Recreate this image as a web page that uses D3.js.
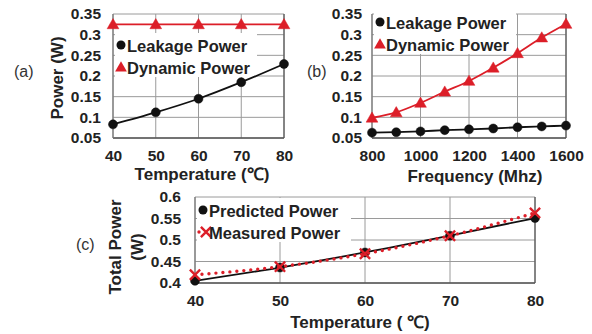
<!DOCTYPE html>
<html>
<head>
<meta charset="utf-8">
<script src="https://cdn.jsdelivr.net/npm/d3@7"></script>
<style>
  body { margin: 0; background: #fff; }
  svg { font-family: "Liberation Sans", Arial, sans-serif; }
</style>
</head>
<body>
<div id="chart"></div>
<script>
// panel (a): power vs temperature
const tempsA = [40, 50, 60, 70, 80];
const leakageA = [0.083, 0.112, 0.145, 0.185, 0.229];
const dynamicA = [0.325, 0.325, 0.325, 0.325, 0.325];

// panel (b): power vs frequency
const freqsB = [800, 900, 1000, 1100, 1200, 1300, 1400, 1500, 1600];
const leakageB = [0.063, 0.064, 0.066, 0.069, 0.071, 0.073, 0.076, 0.078, 0.080];
const dynamicB = [0.099, 0.112, 0.135, 0.162, 0.188, 0.220, 0.255, 0.293, 0.326];

// panel (c): total power vs temperature
const tempsC = [40, 50, 60, 70, 80];
const predictedC = [0.405, 0.436, 0.471, 0.510, 0.551];
const measuredC = [0.419, 0.438, 0.468, 0.510, 0.563];

const powerTicks = [0.05, 0.1, 0.15, 0.2, 0.25, 0.3, 0.35];
const totalTicks = [0.4, 0.45, 0.5, 0.55, 0.6];
const freqTicks = [800, 1000, 1200, 1400, 1600];

const RED = '#dc1e28';
const BLACK = '#111';

const svg = d3.select('#chart').append('svg')
  .attr('width', 592)
  .attr('height', 334);

svg.append('rect').attr('width', 592).attr('height', 334).attr('fill', '#fff');

const triangle = d3.symbol().type(d3.symbolTriangle).size(60);
const cross = d3.symbol().type(d3.symbolX).size(70);

function drawPanel(p) {
  const x = d3.scaleLinear().domain(p.xDomain).range([p.left, p.right]);
  const y = d3.scaleLinear().domain(p.yDomain).range([p.bottom, p.top]);
  const g = svg.append('g');

  // gridlines
  g.selectAll('.gy').data(p.yTicks).enter().append('line')
    .attr('x1', p.left).attr('x2', p.right)
    .attr('y1', d => y(d)).attr('y2', d => y(d))
    .attr('stroke', '#9a9a9a').attr('stroke-width', 1);
  g.selectAll('.gx').data(p.xGrid).enter().append('line')
    .attr('x1', d => x(d)).attr('x2', d => x(d))
    .attr('y1', p.top).attr('y2', p.bottom)
    .attr('stroke', '#9a9a9a').attr('stroke-width', 1);
  // axis lines
  g.append('line').attr('x1', p.left).attr('x2', p.right)
    .attr('y1', p.bottom).attr('y2', p.bottom)
    .attr('stroke', '#555').attr('stroke-width', 1.5);
  g.append('line').attr('x1', p.left).attr('x2', p.left)
    .attr('y1', p.top).attr('y2', p.bottom)
    .attr('stroke', '#777').attr('stroke-width', 1.2);
  g.append('line').attr('x1', p.right).attr('x2', p.right)
    .attr('y1', p.top).attr('y2', p.bottom)
    .attr('stroke', '#555').attr('stroke-width', 1.2);

  // tick labels
  const yAxis = d3.axisLeft(y).tickValues(p.yTicks).tickSize(0).tickPadding(p.yPad)
    .tickFormat(d3.format('~g'));
  const ya = g.append('g').attr('transform', `translate(${p.left},0)`).call(yAxis);
  const xAxis = d3.axisBottom(x).tickValues(p.xTicks).tickSize(0).tickPadding(p.xPad)
    .tickFormat(d3.format('d'));
  const xa = g.append('g').attr('transform', `translate(0,${p.bottom})`).call(xAxis);
  [ya, xa].forEach(a => {
    a.select('.domain').remove();
    a.selectAll('text').attr('font-size', 15.5).attr('font-weight', 'bold')
      .attr('fill', '#222').attr('font-family', '"Liberation Sans", Arial, sans-serif');
  });

  // legend background
  g.append('rect')
    .attr('x', p.left + 2).attr('y', p.legendY - 13)
    .attr('width', p.legendW).attr('height', 44)
    .attr('fill', '#fff');

  // series
  p.series.forEach((s, si) => {
    const pts = p.xs.map((v, i) => [x(v), y(s.values[i])]);
    g.append('path')
      .attr('d', d3.line().curve(d3.curveMonotoneX)(pts))
      .attr('fill', 'none')
      .attr('stroke', s.color)
      .attr('stroke-width', s.dotted ? 3.4 : 1.8)
      .attr('stroke-linecap', 'round')
      .attr('stroke-dasharray', s.dotted ? '0 7' : null);
    g.selectAll(null).data(pts).enter().append(s.marker === 'circle' ? 'circle' : 'path')
      .each(function(d) {
        const el = d3.select(this);
        if (s.marker === 'circle') el.attr('cx', d[0]).attr('cy', d[1]).attr('r', 4.5);
        else el.attr('transform', `translate(${d[0]},${d[1] + (s.marker === 'triangle' ? 1 : 0)})`)
          .attr('d', s.marker === 'triangle' ? triangle() : cross());
      })
      .attr('fill', s.marker === 'cross' ? 'none' : s.color)
      .attr('stroke', s.color)
      .attr('stroke-width', s.marker === 'cross' ? 2.4 : 0.5);

    // legend entry
    const ly = p.legendY + si * 22;
    const mx = p.left + 8;
    if (s.marker === 'circle') {
      g.append('circle').attr('cx', mx).attr('cy', ly - 1).attr('r', 4.5).attr('fill', s.color);
    } else if (s.marker === 'triangle') {
      g.append('path').attr('transform', `translate(${mx},${ly})`).attr('d', triangle()).attr('fill', s.color);
    } else {
      g.append('circle').attr('cx', mx - 4).attr('cy', ly - 1).attr('r', 1.7).attr('fill', s.color);
      g.append('path').attr('transform', `translate(${mx + 3},${ly - 1})`).attr('d', cross())
        .attr('fill', 'none').attr('stroke', s.color).attr('stroke-width', 2.4);
    }
    g.append('text').attr('x', mx + 6).attr('y', ly + 5.5)
      .attr('font-size', 16.5).attr('font-weight', 'bold').attr('fill', '#222')
      .text(s.name);
  });

  // axis titles
  g.append('text').attr('x', p.xTitleX).attr('y', p.xTitleY)
    .attr('text-anchor', 'middle').attr('font-size', 17).attr('font-weight', 'bold')
    .attr('fill', '#222').text(p.xTitle);
  p.yTitle.forEach((t, i) => {
    g.append('text')
      .attr('transform', `translate(${p.yTitleX + i * 22},${p.yTitleY}) rotate(-90)`)
      .attr('text-anchor', 'middle').attr('font-size', 17).attr('font-weight', 'bold')
      .attr('fill', '#222').text(t);
  });
  g.append('text').attr('x', p.labelX).attr('y', p.labelY)
    .attr('font-size', 16).attr('fill', '#333').text(p.label);
}

drawPanel({
  left: 113, right: 284, top: 14, bottom: 138,
  xDomain: [40, 80], yDomain: [0.05, 0.35],
  xs: tempsA, xTicks: tempsA, xGrid: tempsA, yTicks: powerTicks,
  yPad: 12, xPad: 12,
  series: [
    { name: 'Leakage Power', values: leakageA, color: BLACK, marker: 'circle' },
    { name: 'Dynamic Power', values: dynamicA, color: RED, marker: 'triangle' }
  ],
  legendY: 46, legendW: 142,
  xTitle: 'Temperature (℃)', xTitleX: 202, xTitleY: 180,
  yTitle: ['Power (W)'], yTitleX: 63, yTitleY: 78,
  label: '(a)', labelX: 14, labelY: 77
});

drawPanel({
  left: 372, right: 566, top: 14, bottom: 138,
  xDomain: [800, 1600], yDomain: [0.05, 0.35],
  xs: freqsB, xTicks: freqTicks, xGrid: freqTicks, yTicks: powerTicks,
  yPad: 10, xPad: 12,
  series: [
    { name: 'Leakage Power', values: leakageB, color: BLACK, marker: 'circle' },
    { name: 'Dynamic Power', values: dynamicB, color: RED, marker: 'triangle' }
  ],
  legendY: 23, legendW: 142,
  xTitle: 'Frequency (Mhz)', xTitleX: 475, xTitleY: 182,
  yTitle: [], yTitleX: 0, yTitleY: 0,
  label: '(b)', labelX: 307, labelY: 77
});

drawPanel({
  left: 195, right: 535, top: 197, bottom: 283,
  xDomain: [40, 80], yDomain: [0.4, 0.6],
  xs: tempsC, xTicks: tempsC, xGrid: tempsC, yTicks: totalTicks,
  yPad: 14, xPad: 12,
  series: [
    { name: 'Predicted Power', values: predictedC, color: BLACK, marker: 'circle' },
    { name: 'Measured Power', values: measuredC, color: RED, marker: 'cross', dotted: true }
  ],
  legendY: 211, legendW: 154,
  xTitle: 'Temperature ( ℃)', xTitleX: 360, xTitleY: 328,
  yTitle: ['Total Power', '(W)'], yTitleX: 121, yTitleY: 247,
  label: '(c)', labelX: 76, labelY: 250
});
</script>
</body>
</html>
